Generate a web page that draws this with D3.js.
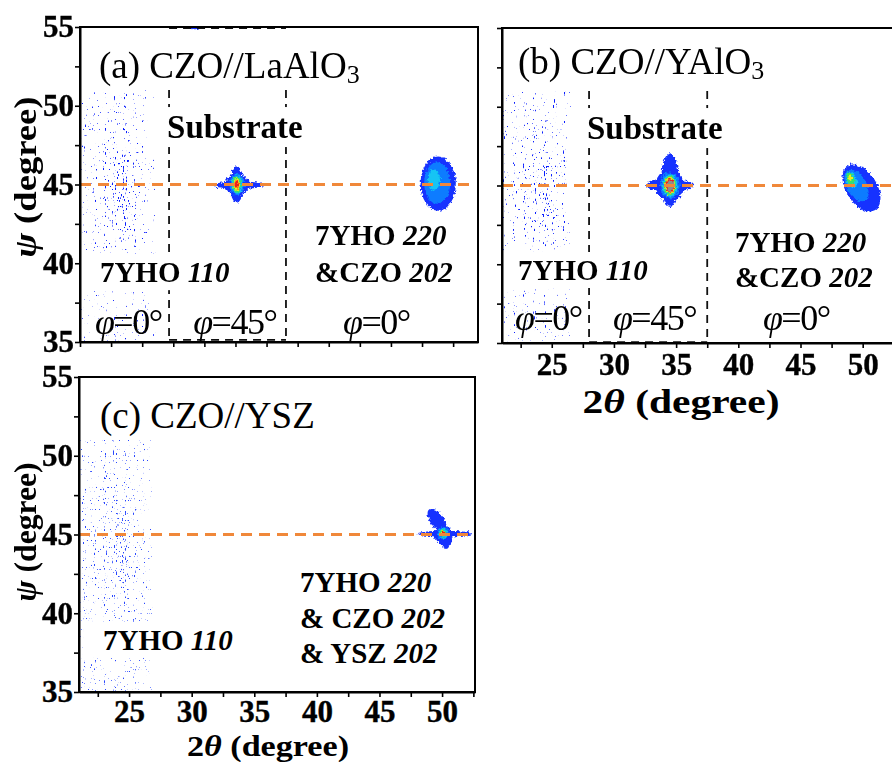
<!DOCTYPE html>
<html>
<head>
<meta charset="utf-8">
<script src="https://cdnjs.cloudflare.com/ajax/libs/d3/7.8.5/d3.min.js"></script>
<style>
  body { margin: 0; background: #fff; }
  svg { display: block; }
  text { font-family: "Liberation Serif", "Times New Roman", serif; fill: #000; }
</style>
</head>
<body>
<div id="chart"></div>
<script>
// ---- values ----
const psiDomain = [35, 55];
const xDomains = { a: [20, 52], b: [21, 53], c: [21, 52.63] };
const psiTicks = [35, 37.5, 40, 42.5, 45, 47.5, 50, 52.5, 55];
const psiLabels = [35, 40, 45, 50, 55];
const tthTicks = [20, 22.5, 25, 27.5, 30, 32.5, 35, 37.5, 40, 42.5, 45, 47.5, 50, 52.5];
const tthLabels = [25, 30, 35, 40, 45, 50];
const psiRef = 45;

// substrate window (2theta from / to, psi from / to)
const substrateWin = { a: [27.16, 36.56, 35.13, 51], b: [28.0, 37.5, 35.06, 51] };

// diffuse 7YHO 110 scattering: bin edges + relative density (rows from high psi to low psi)
const diffuseA = {
  tth: [20, 21, 22, 23, 24, 25, 26],
  psi: [51, 50, 49, 48, 47, 46, 45, 44, 43, 42, 41, 40, 39, 38, 37, 36, 35],
  d: [
    [.42, .42, .47, .47, .42, .32],
    [.40, .42, .47, .52, .42, .32],
    [.40, .42, .47, .57, .42, .32],
    [.40, .42, .52, .64, .47, .32],
    [.40, .47, .57, .74, .50, .32],
    [.40, .47, .64, .87, .52, .32],
    [.40, .50, .70, .94, .52, .32],
    [.40, .47, .64, .82, .50, .30],
    [.37, .44, .57, .70, .47, .30],
    [.37, .42, .50, .57, .44, .28],
    [.34, .38, .42, .44, .38, .28],
    [.32, .34, .36, .36, .34, .26],
    [.32, .34, .36, .36, .34, .26],
    [.32, .34, .36, .36, .34, .26],
    [.32, .36, .38, .38, .36, .28],
    [.32, .36, .38, .38, .36, .28]
  ]
};
const diffuseB = {
  tth: [21, 22, 23, 24, 25, 26, 26.5],
  psi: [51, 50, 49, 48, 47, 46, 45, 44, 43, 42, 41, 40, 39, 38, 37, 36, 35],
  d: [
    [.44, .47, .47, .44, .44, .32],
    [.44, .47, .47, .47, .44, .32],
    [.44, .47, .50, .52, .44, .32],
    [.44, .47, .52, .62, .47, .32],
    [.44, .47, .57, .74, .50, .32],
    [.44, .50, .62, .87, .52, .32],
    [.44, .50, .64, .92, .52, .32],
    [.44, .50, .60, .80, .50, .32],
    [.42, .47, .54, .67, .47, .32],
    [.42, .44, .48, .54, .44, .32],
    [.38, .40, .42, .42, .40, .30],
    [.36, .38, .38, .38, .36, .30],
    [.36, .38, .38, .38, .36, .30],
    [.36, .38, .38, .38, .36, .30],
    [.38, .40, .40, .40, .38, .30],
    [.38, .40, .40, .40, .38, .30]
  ]
};
const diffuseC = {
  tth: [21, 22, 23, 24, 25, 26, 26.8],
  psi: [51, 50, 49, 48, 47, 46, 45, 44, 43, 42, 41, 40, 39, 38, 37, 36, 35],
  d: [
    [.46, .46, .46, .46, .46, .42],
    [.46, .46, .46, .48, .46, .42],
    [.46, .46, .48, .50, .46, .42],
    [.46, .46, .48, .54, .46, .42],
    [.46, .48, .50, .60, .48, .42],
    [.46, .48, .54, .70, .48, .42],
    [.46, .48, .60, .94, .50, .42],
    [.46, .48, .61, .98, .50, .42],
    [.46, .48, .56, .84, .48, .42],
    [.46, .46, .50, .66, .46, .42],
    [.44, .46, .48, .52, .46, .40],
    [.44, .44, .46, .46, .44, .40],
    [.44, .44, .46, .46, .44, .40],
    [.44, .44, .46, .46, .44, .40],
    [.44, .44, .46, .46, .44, .40],
    [.44, .44, .46, .46, .44, .40]
  ]
};

// diffraction spots as intensity contours: level, centre (tth, psi), half widths (dtth, dpsi), tilt
const spotsA = [
  { lv: 0, tth: 32.63, psi: 45.0, dt: 1.0, dp: 0.62, tilt: 0 },
  { lv: 0, tth: 32.8, psi: 44.96, dt: 2.0, dp: 0.24, tilt: 0 },
  { lv: 0, tth: 32.6, psi: 45.0, dt: 0.55, dp: 1.15, tilt: 0 },
  { lv: 1, tth: 32.63, psi: 45.0, dt: 0.62, dp: 0.68, tilt: 0 },
  { lv: 2, tth: 32.63, psi: 45.0, dt: 0.46, dp: 0.58, tilt: 0 },
  { lv: 3, tth: 32.6, psi: 45.0, dt: 0.36, dp: 0.52, tilt: 0 },
  { lv: 4, tth: 32.6, psi: 45.0, dt: 0.27, dp: 0.4, tilt: 0 },
  { lv: 5, tth: 32.6, psi: 45.0, dt: 0.2, dp: 0.3, tilt: 0 },
  { lv: 6, tth: 32.6, psi: 45.0, dt: 0.14, dp: 0.2, tilt: 0 },
  { lv: 0, tth: 48.8, psi: 45.05, dt: 1.42, dp: 1.72, tilt: 0 },
  { lv: 1, tth: 48.72, psi: 45.1, dt: 1.05, dp: 1.32, tilt: 0 },
  { lv: 2, tth: 48.45, psi: 45.3, dt: 0.5, dp: 0.65, tilt: 0 },
  { lv: 0, tth: 29.2, psi: 55.2, dt: 0.65, dp: 0.35, tilt: 0 },
  { lv: 2, tth: 29.2, psi: 55.2, dt: 0.3, dp: 0.2, tilt: 0 }
];
const spotsB = [
  { lv: 0, tth: 34.5, psi: 45.0, dt: 1.15, dp: 1.0, tilt: 0 },
  { lv: 0, tth: 34.5, psi: 45.0, dt: 1.9, dp: 0.4, tilt: 0 },
  { lv: 0, tth: 34.5, psi: 45.35, dt: 0.7, dp: 1.7, tilt: 0 },
  { lv: 1, tth: 34.5, psi: 45.0, dt: 0.8, dp: 0.82, tilt: 0 },
  { lv: 2, tth: 34.5, psi: 45.0, dt: 0.6, dp: 0.7, tilt: 0 },
  { lv: 3, tth: 34.5, psi: 45.0, dt: 0.5, dp: 0.62, tilt: 0 },
  { lv: 4, tth: 34.5, psi: 45.0, dt: 0.41, dp: 0.56, tilt: 0 },
  { lv: 6, tth: 34.5, psi: 45.0, dt: 0.34, dp: 0.5, tilt: 0 },
  { lv: 7, tth: 34.5, psi: 45.0, dt: 0.27, dp: 0.4, tilt: 0 },
  { lv: 0, tth: 49.9, psi: 44.84, dt: 1.25, dp: 1.65, tilt: -32 },
  { lv: 1, tth: 49.5, psi: 45.0, dt: 0.8, dp: 1.1, tilt: -30 },
  { lv: 2, tth: 49.1, psi: 45.35, dt: 0.42, dp: 0.55, tilt: -25 },
  { lv: 3, tth: 49.0, psi: 45.45, dt: 0.3, dp: 0.4, tilt: -20 },
  { lv: 4, tth: 49.0, psi: 45.5, dt: 0.15, dp: 0.2, tilt: 0 }
];
const spotsC = [
  { lv: 0, tth: 50.2, psi: 45.05, dt: 2.2, dp: 0.18, tilt: 0 },
  { lv: 0, tth: 49.6, psi: 45.9, dt: 0.55, dp: 0.85, tilt: -35 },
  { lv: 0, tth: 50.07, psi: 44.97, dt: 0.75, dp: 0.55, tilt: 0 },
  { lv: 0, tth: 50.3, psi: 44.65, dt: 0.5, dp: 0.5, tilt: 0 },
  { lv: 1, tth: 50.07, psi: 45.1, dt: 0.45, dp: 0.4, tilt: 0 },
  { lv: 2, tth: 50.07, psi: 45.1, dt: 0.35, dp: 0.32, tilt: 0 },
  { lv: 3, tth: 50.07, psi: 45.1, dt: 0.26, dp: 0.24, tilt: 0 },
  { lv: 4, tth: 50.07, psi: 45.1, dt: 0.16, dp: 0.16, tilt: 0 },
  { lv: 6, tth: 50.1, psi: 45.1, dt: 0.09, dp: 0.1, tilt: 0 }
];

const titles = { a: ["(a) CZO//LaAlO", "3"], b: ["(b) CZO//YAlO", "3"], c: ["(c) CZO//YSZ", ""] };

// annotations (anchor in data units)
const notes = [
  { p: "a", kind: "sub", tth: 27.0, psi: 47.95, box: true, parts: [["Substrate", "b"]] },
  { p: "a", kind: "hkl", tth: 21.6, psi: 38.8, box: true, parts: [["7YHO ", "b"], ["110", "bi"]] },
  { p: "a", kind: "hkl", tth: 38.9, psi: 41.16, parts: [["7YHO ", "b"], ["220", "bi"]] },
  { p: "a", kind: "hkl", tth: 38.9, psi: 38.8, parts: [["&CZO ", "b"], ["202", "bi"]] },
  { p: "a", kind: "phi", tth: 21.2, psi: 35.5, parts: [["φ", "i"], ["=0°", "r"]] },
  { p: "a", kind: "phi", tth: 29.1, psi: 35.5, parts: [["φ", "i"], ["=45°", "r"]] },
  { p: "a", kind: "phi", tth: 41.15, psi: 35.5, parts: [["φ", "i"], ["=0°", "r"]] },
  { p: "b", kind: "sub", tth: 27.83, psi: 47.95, box: true, parts: [["Substrate", "b"]] },
  { p: "b", kind: "hkl", tth: 22.29, psi: 39.0, box: true, parts: [["7YHO ", "b"], ["110", "bi"]] },
  { p: "b", kind: "hkl", tth: 39.73, psi: 40.78, parts: [["7YHO ", "b"], ["220", "bi"]] },
  { p: "b", kind: "hkl", tth: 39.73, psi: 38.56, parts: [["&CZO ", "b"], ["202", "bi"]] },
  { p: "b", kind: "phi", tth: 22.05, psi: 35.85, parts: [["φ", "i"], ["=0°", "r"]] },
  { p: "b", kind: "phi", tth: 29.92, psi: 35.85, parts: [["φ", "i"], ["=45°", "r"]] },
  { p: "b", kind: "phi", tth: 41.98, psi: 35.85, parts: [["φ", "i"], ["=0°", "r"]] },
  { p: "c", kind: "hkl", tth: 22.92, psi: 37.67, box: true, parts: [["7YHO ", "b"], ["110", "bi"]] },
  { p: "c", kind: "hkl", tth: 38.65, psi: 41.35, parts: [["7YHO ", "b"], ["220", "bi"]] },
  { p: "c", kind: "hkl", tth: 38.65, psi: 39.06, parts: [["& CZO ", "b"], ["202", "bi"]] },
  { p: "c", kind: "hkl", tth: 38.65, psi: 36.84, parts: [["& YSZ ", "b"], ["202", "bi"]] }
];

// ---- layout / style ----
const W = 892, H = 762;
const boxes = {
  a: { left: 80, top: 27, right: 478, bottom: 342 },
  b: { left: 502, top: 28, right: 900, bottom: 343 },
  c: { left: 79, top: 377, right: 475, bottom: 692 }
};
const levelColors = ["#1530ff", "#0a7cff", "#12c4f4", "#38e06a", "#f0ec1e", "#ff9416", "#ee1d1d", "#8e8e8e"];
const noteStyle = { sub: { size: 33, ls: 0 }, hkl: { size: 29, ls: 0 }, phi: { size: 36, ls: -1.5 } };
const FONT = '"Liberation Serif", "Times New Roman", serif';

const svg = d3.select("#chart").append("svg").attr("width", W).attr("height", H);
const defs = svg.append("defs");

// speckle texture: noise thresholded by the local density (carried in the cell alpha)
function speckleFilter(id, freq, seed, rgb) {
  const f = defs.append("filter").attr("id", id).attr("filterUnits", "userSpaceOnUse")
    .attr("x", 0).attr("y", 0).attr("width", W).attr("height", H)
    .attr("color-interpolation-filters", "sRGB");
  f.append("feTurbulence").attr("type", "fractalNoise").attr("baseFrequency", freq)
    .attr("numOctaves", 1).attr("seed", seed).attr("result", "noise");
  f.append("feColorMatrix").attr("in", "noise").attr("type", "matrix")
    .attr("values", "0 0 0 0 0  0 0 0 0 0  0 0 0 0 0  4 0 0 0 -2").attr("result", "na");
  f.append("feComposite").attr("in", "SourceAlpha").attr("in2", "na").attr("operator", "arithmetic")
    .attr("k1", 0).attr("k2", 4).attr("k3", 4).attr("k4", -4).attr("result", "mask");
  f.append("feColorMatrix").attr("in", "mask").attr("type", "matrix")
    .attr("values", `0 0 0 0 ${rgb[0]}  0 0 0 0 ${rgb[1]}  0 0 0 0 ${rgb[2]}  0 0 0 1 0`);
}
speckleFilter("speckA", "0.9 0.35", 4, [0.04, 0.12, 1]);
speckleFilter("speckB", "0.9 0.35", 9, [0.04, 0.12, 1]);
speckleFilter("speckC", "1.1 0.45", 13, [0.16, 0.28, 1]);

const rough = defs.append("filter").attr("id", "rough").attr("filterUnits", "userSpaceOnUse")
  .attr("x", 0).attr("y", 0).attr("width", W).attr("height", H);
rough.append("feTurbulence").attr("type", "fractalNoise").attr("baseFrequency", "0.4")
  .attr("numOctaves", 2).attr("seed", 11).attr("result", "t");
rough.append("feDisplacementMap").attr("in", "SourceGraphic").attr("in2", "t").attr("scale", 5)
  .attr("xChannelSelector", "R").attr("yChannelSelector", "G");

const densityOpacity = d3.scaleLinear().domain([0.3, 0.95]).range([0.2, 0.6]).clamp(true);

const panelData = {
  a: { diffuse: diffuseA, spots: spotsA },
  b: { diffuse: diffuseB, spots: spotsB },
  c: { diffuse: diffuseC, spots: spotsC }
};

["b", "a", "c"].forEach(k => {
  const bx = boxes[k];
  const x = d3.scaleLinear().domain(xDomains[k]).range([bx.left, bx.right]);
  const y = d3.scaleLinear().domain(psiDomain).range([bx.bottom, bx.top]);
  const g = svg.append("g");

  defs.append("clipPath").attr("id", "clip-" + k).append("rect")
    .attr("x", bx.left).attr("y", bx.top).attr("width", bx.right - bx.left).attr("height", bx.bottom - bx.top);
  const plot = g.append("g").attr("clip-path", "url(#clip-" + k + ")");

  // diffuse speckle cells
  const df = panelData[k].diffuse;
  const cells = [];
  df.d.forEach((row, i) => row.forEach((v, j) => cells.push({
    x0: df.tth[j], x1: df.tth[j + 1], y0: df.psi[i], y1: df.psi[i + 1], v
  })));
  plot.append("g").attr("filter", "url(#speck" + k.toUpperCase() + ")")
    .selectAll("rect").data(cells).join("rect")
    .attr("x", d => x(d.x0)).attr("y", d => y(d.y0))
    .attr("width", d => x(d.x1) - x(d.x0) + 0.5).attr("height", d => y(d.y1) - y(d.y0) + 0.5)
    .attr("fill", "#000").attr("fill-opacity", d => densityOpacity(d.v));

  // spots
  plot.append("g").attr("filter", "url(#rough)")
    .selectAll("ellipse").data(panelData[k].spots).join("ellipse")
    .attr("cx", d => x(d.tth)).attr("cy", d => y(d.psi))
    .attr("rx", d => x(d.tth + d.dt) - x(d.tth))
    .attr("ry", d => y(d.psi) - y(d.psi + d.dp))
    .attr("transform", d => `rotate(${d.tilt},${x(d.tth)},${y(d.psi)})`)
    .attr("fill", d => levelColors[d.lv]);

  // substrate window
  if (substrateWin[k]) {
    const [t0, t1, p0, p1] = substrateWin[k];
    const dl = plot.append("g").attr("stroke", "#111").attr("stroke-width", 1.8)
      .attr("stroke-dasharray", "8 6").attr("fill", "none");
    dl.append("line").attr("x1", x(t0)).attr("x2", x(t0)).attr("y1", y(p1)).attr("y2", y(p0));
    dl.append("line").attr("x1", x(t1)).attr("x2", x(t1)).attr("y1", y(p1)).attr("y2", y(p0));
    dl.append("line").attr("x1", x(t0)).attr("x2", x(t1)).attr("y1", y(p0)).attr("y2", y(p0));
    if (k === "a") dl.append("line").attr("x1", x(t0)).attr("x2", x(t1)).attr("y1", y(55) + 1).attr("y2", y(55) + 1);
  }

  // reference psi line
  plot.append("line")
    .attr("x1", bx.left).attr("x2", bx.right - 6).attr("y1", y(psiRef)).attr("y2", y(psiRef))
    .attr("stroke", "#f0883a").attr("stroke-width", 3).attr("stroke-dasharray", "11 7");

  // annotations
  const ng = g.append("g");
  notes.filter(n => n.p === k).forEach(n => {
    const st = noteStyle[n.kind];
    const t = ng.append("text").attr("x", x(n.tth)).attr("y", y(n.psi))
      .attr("font-size", st.size).attr("letter-spacing", st.ls);
    n.parts.forEach(([s, f]) => t.append("tspan").text(s)
      .attr("font-weight", f.includes("b") ? "bold" : "normal")
      .attr("font-style", f.includes("i") ? "italic" : "normal"));
    if (n.box) {
      const bb = t.node().getBBox();
      const x0 = Math.max(bx.left + 1, bb.x - 20);
      ng.insert("rect", () => t.node())
        .attr("x", x0).attr("y", bb.y - 2)
        .attr("width", bb.x + bb.width + 10 - x0).attr("height", bb.height + 4)
        .attr("fill", "#fff");
    }
  });

  // title
  const [main, sub] = titles[k];
  const base = { a: 78, b: 74, c: 428 }[k];
  const tx = x(xDomains[k][0]) + (k === "a" ? 19 : k === "b" ? 16 : 21);
  const tt = g.append("text").attr("x", tx).attr("y", base).attr("font-size", 37);
  tt.append("tspan").text(main);
  if (sub) tt.append("tspan").attr("font-size", 26).attr("dy", 5).text(sub);

  // frame
  g.append("rect").attr("x", bx.left).attr("y", bx.top)
    .attr("width", bx.right - bx.left).attr("height", bx.bottom - bx.top)
    .attr("fill", "none").attr("stroke", "#000").attr("stroke-width", 2);

  // axes
  const yAxis = d3.axisLeft(y).tickValues(psiTicks).tickSize(5).tickSizeOuter(0).tickPadding(1)
    .tickFormat(d => (k !== "b" && psiLabels.includes(d)) ? d : "");
  const xAxis = d3.axisBottom(x).tickValues(tthTicks.filter(v => v >= xDomains[k][0] && v <= xDomains[k][1]))
    .tickSize(5).tickSizeOuter(0).tickPadding(k === "b" ? 5 : 3)
    .tickFormat(d => (k !== "a" && tthLabels.includes(d)) ? d : "");
  [[yAxis, `translate(${bx.left},0)`], [xAxis, `translate(0,${bx.bottom})`]].forEach(([ax, tr]) => {
    const a = g.append("g").attr("transform", tr).call(ax);
    a.select(".domain").attr("stroke-width", 2);
    a.selectAll(".tick line").attr("stroke-width", 1.6);
    a.selectAll("text").attr("font-family", FONT).attr("font-weight", "bold").attr("font-size", 31)
      .attr("fill", "#000").attr("stroke", "#000").attr("stroke-width", 0.4);
  });
});

// axis titles
function twoTheta(cx, base, size, len) {
  const t = svg.append("text").attr("x", cx).attr("y", base).attr("text-anchor", "middle")
    .attr("font-size", size).attr("font-weight", "bold")
    .attr("textLength", len).attr("lengthAdjust", "spacingAndGlyphs");
  t.append("tspan").text("2");
  t.append("tspan").attr("font-style", "italic").text("θ");
  t.append("tspan").text(" (degree)");
}
twoTheta(681, 413, 33, 197);
twoTheta(268, 756, 29, 162);

function psiTitle(cx, cy, size, len) {
  const t = svg.append("text").attr("transform", `translate(${cx},${cy}) rotate(-90)`)
    .attr("text-anchor", "middle").attr("font-size", size).attr("font-weight", "bold")
    .attr("textLength", len).attr("lengthAdjust", "spacingAndGlyphs");
  t.append("tspan").attr("font-style", "italic").text("ψ");
  t.append("tspan").text(" (degree)");
}
psiTitle(36, 177, 32, 161);
psiTitle(36, 532, 31, 139);
</script>
</body>
</html>
